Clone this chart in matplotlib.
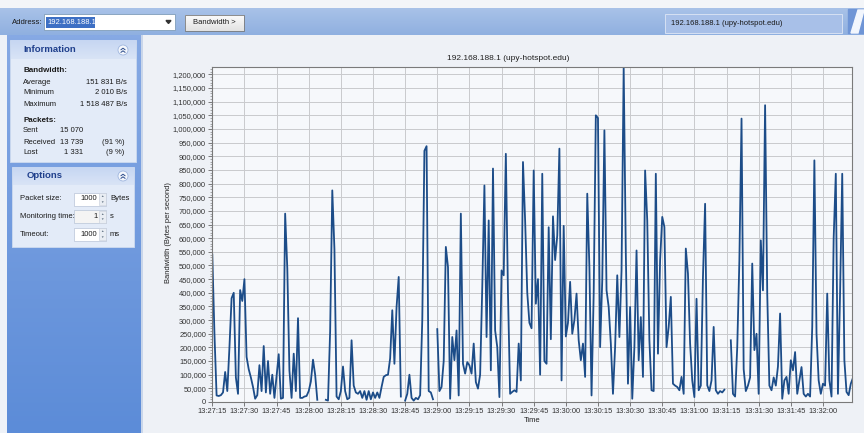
import numpy as np
import matplotlib
matplotlib.use("Agg")
import matplotlib.pyplot as plt
from matplotlib.colors import to_rgb
from matplotlib.patches import Rectangle, Circle, Polygon
from matplotlib.ticker import MultipleLocator, FuncFormatter

# bandwidth samples, one per second starting 13:27:15 (kB/s, nan = no reply)
nan = np.nan
bw_k = [
    540, 250, 24, 22, 25, 35, 110, 40, 200, 380,
    400, 90, 30, 410, 370, 450, 165, 120, 90, 55,
    12, 25, 135, 40, 205, 35, 150, 30, 100, 15,
    95, 175, 12, 15, 690, 490, 115, 15, 177, 40,
    307, 15, 15, 20, 22, 40, 75, 155, 100, 8,
    nan, nan, nan, 8, 5, 260, 775, 560, 20, 10,
    40, 130, 40, 10, 15, 226, 60, 35, 30, 40,
    15, 40, 8, 40, 10, 35, 15, 35, 15, 55,
    92, 98, 100, 160, 336, 140, 348, 458, 20, nan,
    5, 30, 100, 15, 5, 15, 10, 25, 300, 920,
    937, 40, 35, 10, nan, 267, 40, 55, 150, 568,
    494, 12, 238, 153, 262, 24, 690, 140, 104, 146,
    134, 104, 214, 73, 49, 100, 421, 793, 238, 665,
    116, 855, 262, 201, 18, 482, 464, 909, 397, 30,
    37, 43, 37, 214, 79, 879, 665, 400, 290, 270,
    848, 360, 450, 100, 836, 150, 140, 640, 230, 680,
    520, 610, 928, 79, 645, 240, 290, 440, 250, 300,
    397, 226, 153, 214, 92, 763, 494, 24, 397, 1050,
    1040, 201, 446, 995, 409, 348, 214, 30, 201, 464,
    238, 482, 1226, 543, 67, 348, 12, 201, 555, 153,
    311, 92, 848, 665, 226, 43, 40, 836, 177, 519,
    678, 641, 201, 275, 385, 67, 60, 55, 43, 92,
    30, 562, 470, 214, 79, 18, 378, 43, 60, 458,
    726, 61, 40, 79, 275, 43, 30, 40, 35, 45,
    nan, nan, 226, 30, 20, 201, 519, 1038, 120, 40,
    60, 90, 507, 190, 250, 30, 592, 409, 1087, 397,
    60, 43, 90, 60, 130, 324, 12, 79, 92, 30,
    153, 116, 183, 30, 79, 128, 30, 20, 30, 20,
    275, 885, 250, 79, 30, 67, 60, 397, 79, 20,
    600, 836, 30, 400, 836, 153, 37, 25, 67, 88,
]
seconds = np.arange(len(bw_k))
bandwidth = np.array(bw_k, dtype=float) * 1000

host = "192.168.188.1"
chart_title = "192.168.188.1 (upy-hotspot.edu)"
start_h, start_m, start_s = 13, 27, 15

bw_rows = [("Average", "151 831 B/s"), ("Minimum", "2 010 B/s"), ("Maximum", "1 518 487 B/s")]
packet_rows = [("Sent", "15 070", ""), ("Received", "13 739", "(91 %)"), ("Lost", "1 331", "(9 %)")]
option_rows = [("Packet size:", "1000", "Bytes"), ("Monitoring time:", "1", "s"), ("Timeout:", "1000", "ms")]

plt.rcParams['font.family'] = ['Liberation Sans', 'DejaVu Sans']

W, H = 864, 433
fig = plt.figure(figsize=(W / 100, H / 100), dpi=100)
fig.patch.set_facecolor('#eef1f6')

# window chrome drawn in pixel coordinates
bg = fig.add_axes([0, 0, 1, 1])
bg.axis('off')


def vgrad(x0, y0, x1, y1, c_top, c_bot, z=1):
    g = np.linspace(0, 1, 64)[:, None]
    img = (np.array(to_rgb(c_top))[None, :] * (1 - g) + np.array(to_rgb(c_bot))[None, :] * g)[:, None, :]
    bg.imshow(img, extent=(x0, x1, y1, y0), aspect='auto', zorder=z, interpolation='bilinear')


def box(x0, y0, x1, y1, fc, ec, lw=0.8, z=2):
    bg.add_patch(Rectangle((x0, y0), x1 - x0, y1 - y0, facecolor=fc, edgecolor=ec, lw=lw, zorder=z))


def collapse_button(cx, cy):
    bg.add_patch(Circle((cx, cy), 5, facecolor='#f4f7fc', edgecolor='#9fb6de', lw=0.6, zorder=4))
    for dy in (-1.8, 0.8):
        bg.plot([cx - 2, cx, cx + 2], [cy + dy + 1.5, cy + dy, cy + dy + 1.5], color='#2a4a8a', lw=0.7, zorder=5)


# top strip and toolbar band
box(0, 0, W, 8, '#f3f5f8', 'none', z=1)
vgrad(0, 8, W, 35, '#a9c2e8', '#8fb0e0')
bg.text(12, 22, "Address:", fontsize=5.5, va='center', color='#1a1a1a', zorder=5)
box(44, 14, 175, 30, 'white', '#7f9db9', lw=0.6)
box(46, 16.5, 95, 27.5, '#3d6fc4', 'none', z=3)
bg.text(47, 22, host, fontsize=5.5, va='center', color='white', zorder=5)
bg.add_patch(Polygon([[166, 20.5], [171, 20.5], [168.5, 23.5]], closed=True, color='#333333', zorder=5))
vgrad(185, 15, 244, 31, '#fbfbfb', '#e2e2e2', z=2)
box(185, 15, 244, 31, 'none', '#7a7a7a', lw=0.6, z=3)
bg.text(214.5, 23, "Bandwidth >", fontsize=5.5, ha='center', va='center', color='#1a1a1a', zorder=5)
box(665, 14, 842, 33, '#a8c0e8', '#d6e1f3', lw=0.7)
bg.text(671, 23.5, chart_title, fontsize=5.5, va='center', color='#1a1a1a', zorder=5)
bg.add_patch(Polygon([[848, 9], [864, 9], [864, 33], [848, 33]], closed=True, color='#6f95d6', zorder=3))
bg.add_patch(Polygon([[851, 33], [858, 10], [864, 10], [858, 33]], closed=True, color='#f2f6fd', zorder=4))

# side panel
box(0, 35, 7, H, '#eef2f8', 'none', z=1)
vgrad(7, 35, 141, H, '#86a9e4', '#5c8cd8')
box(141, 35, 143, H, '#c9d6ea', 'none', z=1)

# information group
box(10, 40, 136, 162, '#e3ebf8', '#c8d7ef', lw=0.7, z=2)
vgrad(10.5, 40.5, 135.5, 59, '#c6d6f2', '#d9e4f6', z=3)
bg.text(23, 50, "Information", fontsize=6.8, fontweight='bold', va='center', color='#1f3f8c', zorder=5)
collapse_button(123, 50)
bg.text(23, 71, "Bandwidth:", fontsize=5.8, fontweight='bold', va='center', color='#1a1a1a', zorder=5)
for i, (name, val) in enumerate(bw_rows):
    y = 82 + i * 11
    bg.text(23, y, name, fontsize=5.5, va='center', color='#1a1a1a', zorder=5)
    bg.text(127, y, val, fontsize=5.5, va='center', ha='right', color='#1a1a1a', zorder=5)
bg.text(23, 120, "Packets:", fontsize=5.8, fontweight='bold', va='center', color='#1a1a1a', zorder=5)
for i, (name, val, pct) in enumerate(packet_rows):
    y = 131 + i * 11
    bg.text(23, y, name, fontsize=5.5, va='center', color='#1a1a1a', zorder=5)
    bg.text(83, y, val, fontsize=5.5, va='center', ha='right', color='#1a1a1a', zorder=5)
    bg.text(124, y, pct, fontsize=5.5, va='center', ha='right', color='#1a1a1a', zorder=5)

# options group
box(12, 167, 134, 247, '#e3ebf8', '#c8d7ef', lw=0.7, z=2)
vgrad(12.5, 167.5, 133.5, 185, '#c6d6f2', '#d9e4f6', z=3)
bg.text(27, 176, "Options", fontsize=6.8, fontweight='bold', va='center', color='#1f3f8c', zorder=5)
collapse_button(123, 176)
for i, (name, val, unit) in enumerate(option_rows):
    y = 199 + i * 17.5
    bg.text(20, y, name, fontsize=5.5, va='center', color='#1a1a1a', zorder=5)
    box(74, y - 6.5, 106, y + 6.5, 'white' if i != 1 else '#f4f4f4', '#b8c4d8', lw=0.5, z=3)
    box(99, y - 6, 106, y + 6, '#e9edf3', '#c5cdda', lw=0.4, z=4)
    bg.text(97.5, y, val, fontsize=5.5, va='center', ha='right', color='#1a1a1a', zorder=5)
    bg.text(102.5, y - 2.8, "▲", fontsize=2.5, va='center', ha='center', color='#667788', zorder=5)
    bg.text(102.5, y + 2.8, "▼", fontsize=2.5, va='center', ha='center', color='#667788', zorder=5)
    bg.text(110, y, unit, fontsize=5.5, va='center', color='#1a1a1a', zorder=5)

bg.set_xlim(0, W)
bg.set_ylim(H, 0)

# bandwidth chart
ax = fig.add_axes([212.3 / W, (H - 402) / H, 640 / W, 335 / H])
ax.set_zorder(3)
ax.set_facecolor('#f6f8fb')
ax.plot(seconds, bandwidth, color='#1c4c88', lw=1.3)
ax.set_xlim(0, 298.7)
ax.set_ylim(0, 1227000)

ax.yaxis.set_major_locator(MultipleLocator(50000))
ax.yaxis.set_minor_locator(MultipleLocator(10000))
ax.xaxis.set_major_locator(MultipleLocator(15))
ax.yaxis.set_major_formatter(FuncFormatter(lambda v, p: f"{v:,.0f}"))


def clock(v, p):
    s = start_h * 3600 + start_m * 60 + start_s + int(round(v))
    return f"{s // 3600:02d}:{s % 3600 // 60:02d}:{s % 60:02d}"


ax.xaxis.set_major_formatter(FuncFormatter(clock))
ax.grid(True, which='major', color='#c9cacd', lw=0.7)
ax.set_axisbelow(True)
ax.tick_params(axis='both', which='major', labelsize=5.4, length=3, width=0.6,
               color='#666666', labelcolor='#333333', pad=1.5)
ax.tick_params(axis='y', which='minor', length=1.5, width=0.5, color='#888888')
for sp in ax.spines.values():
    sp.set_color('#7a7a7a')
    sp.set_linewidth(0.8)

fig.text(508 / W, 1 - 58 / H, chart_title, fontsize=6, ha='center', va='center', color='#222222')
fig.text(168 / W, 1 - 233 / H, "Bandwidth (Bytes per second)", fontsize=5.4, rotation=90,
         ha='center', va='center', color='#222222')
fig.text(532 / W, 1 - 420.5 / H, "Time", fontsize=5.5, ha='center', va='center', color='#222222')

fig.savefig('out.png', dpi=100, facecolor=fig.get_facecolor())
